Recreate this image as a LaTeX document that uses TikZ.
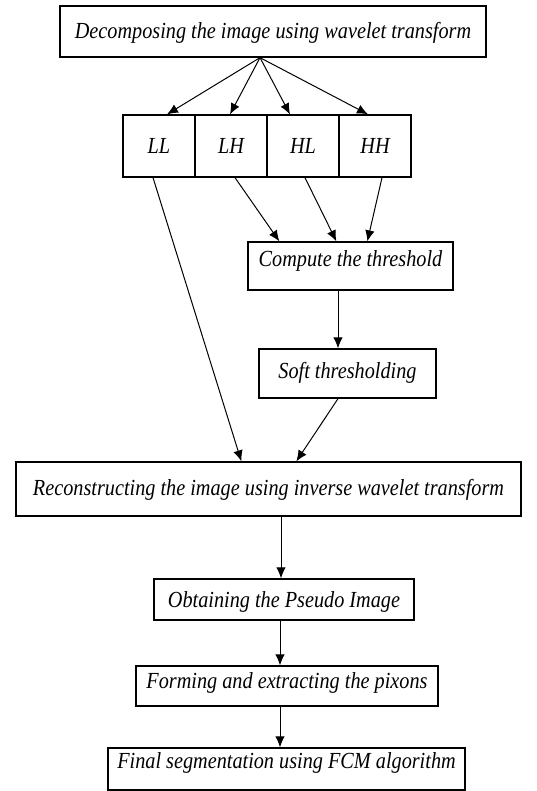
\documentclass[tikz,border=0pt]{standalone}
\usepackage{fontspec}
\setmainfont{Liberation Serif}[FakeStretch=0.88]
\usetikzlibrary{arrows.meta}
\tikzset{stage/.style={draw,line width=1.3pt,inner sep=0pt,font=\fontsize{23}{27}\selectfont\itshape,text height=15pt,text depth=0pt,minimum height=#1},
    stage/.default=50pt,
    flow/.style={line width=1pt,-{Latex[length=11pt,width=9.5pt]}}}

\begin{document}
\begin{tikzpicture}[x=1pt,y=-1pt]
        \useasboundingbox (0,0) rectangle (536,791);
        \node[stage=51pt,minimum width=426pt] (dec) at (273,31.5) {Decomposing the image using wavelet transform};
        \node[stage=62pt,minimum width=72pt] (ll) at (159,146) {LL\hspace{14pt}};
        \node[stage=62pt,minimum width=72pt] (lh) at (231,146) {LH\hspace{10pt}};
        \node[stage=62pt,minimum width=72pt] (hl) at (303,146) {HL};
        \node[stage=62pt,minimum width=72pt] (hh) at (375,146) {HH};
        \node[stage=48pt,minimum width=205pt,text depth=15pt] (thr) at (350.5,266) {Compute the threshold};
        \node[stage=49pt,minimum width=177pt,text depth=6pt] (soft) at (347.5,373.5) {Soft thresholding};
        \node[stage=54pt,minimum width=505pt,text depth=3pt] (rec) at (268.5,489) {Reconstructing the image using inverse wavelet transform};
        \node[stage=41pt,minimum width=260pt] (pseudo) at (284,599.5) {Obtaining the Pseudo Image};
        \node[stage=40pt,minimum width=302pt,text depth=11pt] (pix) at (287,686) {Forming and extracting the pixons};
        \node[stage=42pt,minimum width=357pt,text depth=17pt] (fcm) at (286.5,769) {Final segmentation using FCM algorithm};

        \coordinate (split) at ([xshift=-13pt]dec.south);
        \draw[flow] (split) -- ([xshift=8pt]ll.north);
        \draw[flow] (split) -- ([xshift=-1pt]lh.north);
        \draw[flow] (split) -- ([xshift=-13pt]hl.north);
        \draw[flow] (split) -- ([xshift=-7pt]hh.north);

        \draw[flow] ([xshift=4pt]lh.south) -- ([xshift=32pt]thr.north west);
        \draw[flow] ([xshift=2pt]hl.south) -- ([xshift=89pt]thr.north west);
        \draw[flow] ([xshift=7pt]hh.south) -- ([xshift=120pt]thr.north west);
        \draw[flow] ([xshift=-6pt]ll.south) -- ([xshift=226pt]rec.north west);
        \draw[flow] ([xshift=-9.5pt]soft.north |- thr.south) -- ([xshift=-9.5pt]soft.north);
        \draw[flow] ([xshift=-9.5pt]soft.south) -- ([xshift=281pt]rec.north west);
        \draw[flow] ([xshift=-3pt]pseudo.north |- rec.south) -- ([xshift=-3pt]pseudo.north);
        \draw[flow] ([xshift=-7pt]pix.north |- pseudo.south) -- ([xshift=-7pt]pix.north);
        \draw[flow] ([xshift=-6.5pt]fcm.north |- pix.south) -- ([xshift=-6.5pt]fcm.north);
    \end{tikzpicture}
\end{document}
